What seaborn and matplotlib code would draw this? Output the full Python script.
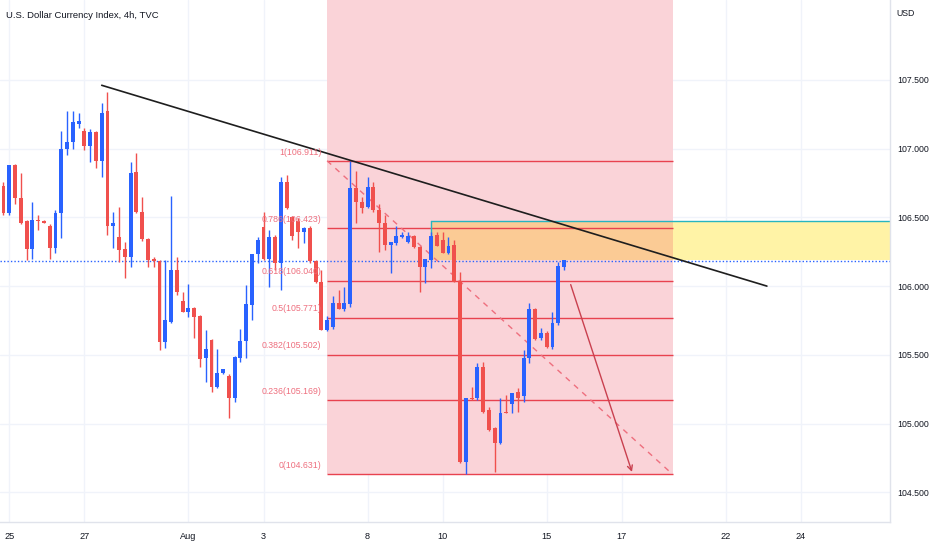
import numpy as np
import matplotlib
matplotlib.use("Agg")
import matplotlib.pyplot as plt
from matplotlib.patches import Rectangle
import seaborn as sns

# 4h candles, oldest first (bar index = position on the x axis)
opens = [106.73, 106.53, 106.88, 106.64, 106.47, 106.27, 106.48, 106.47, 106.44, 106.28,
         106.53, 107.00, 107.05, 107.18, 107.13, 107.02, 107.12, 106.91, 107.27, 106.44,
         106.36, 106.27, 106.21, 106.83, 106.54, 106.34, 106.20, 106.18, 105.59, 105.74,
         106.12, 105.89, 105.81, 105.84, 105.78, 105.48, 105.61, 105.27, 105.37, 105.35,
         105.19, 105.48, 105.60, 105.86, 106.23, 106.43, 106.20, 106.36, 106.17, 106.76,
         106.50, 106.47, 106.39, 106.42, 106.18, 106.03, 105.68, 105.70, 105.88, 105.83,
         105.87, 106.71, 106.61, 106.575, 106.72, 106.55, 106.46, 106.30, 106.31, 106.36,
         106.32, 106.365, 106.285, 106.14, 106.19, 106.37, 106.335, 106.24, 106.30, 106.04,
         104.72, 105.185, 105.19, 105.41, 105.10, 104.97, 104.86, 105.085, 105.14, 105.23,
         105.20, 105.48, 105.83, 105.62, 105.66, 105.56, 105.73, 106.14]
highs = [106.76, 106.88, 106.89, 106.82, 106.48, 106.61, 106.52, 106.48, 106.45, 106.55,
         107.13, 107.27, 107.27, 107.26, 107.15, 107.14, 107.13, 107.33, 107.41, 106.54,
         106.575, 106.32, 106.90, 106.97, 106.65, 106.35, 106.21, 106.19, 106.19, 106.655,
         106.21, 105.96, 106.015, 105.85, 105.79, 105.68, 105.615, 105.54, 105.40, 105.36,
         105.49, 105.69, 106.01, 106.235, 106.36, 106.54, 106.41, 106.37, 106.79, 106.81,
         106.51, 106.495, 106.43, 106.437, 106.19, 106.12, 105.78, 105.93, 105.97, 105.99,
         106.911, 106.84, 106.65, 106.79, 106.76, 106.60, 106.52, 106.32, 106.44, 106.39,
         106.39, 106.37, 106.29, 106.20, 106.39, 106.39, 106.39, 106.36, 106.335, 106.10,
         105.19, 105.27, 105.44, 105.45, 105.12, 104.975, 105.19, 105.21, 105.225, 105.26,
         105.535, 105.88, 105.84, 105.695, 105.67, 105.81, 106.175, 106.19]
lows = [106.52, 106.52, 106.60, 106.45, 106.19, 106.20, 106.41, 106.46, 106.20, 106.24,
        106.35, 106.95, 107.00, 107.15, 106.99, 106.90, 106.86, 106.79, 106.37, 106.28,
        106.175, 106.06, 106.14, 106.53, 106.33, 106.14, 106.14, 105.535, 105.55, 105.73,
        105.935, 105.81, 105.775, 105.62, 105.41, 105.30, 105.23, 105.26, 105.36, 105.04,
        105.16, 105.45, 105.48, 105.75, 106.17, 106.19, 105.99, 106.12, 105.97, 106.56,
        106.335, 106.28, 106.31, 106.17, 106.02, 105.68, 105.67, 105.69, 105.83, 105.82,
        105.85, 106.46, 106.53, 106.57, 106.54, 106.25, 106.26, 106.095, 106.30, 106.35,
        106.31, 106.28, 105.96, 106.02, 106.13, 106.29, 106.24, 106.235, 106.03, 104.715,
        104.631, 105.175, 105.17, 105.08, 104.95, 104.65, 104.855, 105.075, 105.08, 105.085,
        105.16, 105.44, 105.61, 105.61, 105.55, 105.54, 105.72, 106.12]
closes = [106.53, 106.88, 106.64, 106.46, 106.27, 106.48, 106.47, 106.46, 106.28, 106.53,
          107.00, 107.05, 107.19, 107.20, 107.02, 107.12, 106.91, 107.26, 106.44, 106.46,
          106.26, 106.21, 106.82, 106.54, 106.34, 106.19, 106.18, 105.59, 105.75, 106.12,
          105.96, 105.81, 105.84, 105.775, 105.47, 105.54, 105.27, 105.37, 105.40, 105.19,
          105.485, 105.60, 105.87, 106.23, 106.335, 106.20, 106.36, 106.17, 106.76, 106.57,
          106.365, 106.39, 106.42, 106.18, 106.03, 105.68, 105.75, 105.88, 105.83, 105.88,
          106.71, 106.61, 106.57, 106.72, 106.55, 106.46, 106.30, 106.32, 106.365, 106.375,
          106.365, 106.285, 106.14, 106.20, 106.365, 106.29, 106.24, 106.29, 106.03, 104.72,
          105.185, 105.18, 105.41, 105.085, 104.955, 104.86, 105.08, 105.08, 105.22, 105.19,
          105.48, 105.83, 105.615, 105.66, 105.555, 105.73, 106.145, 106.19]

date_ticks = [1, 14, 32, 45, 63, 76, 94, 107, 125, 138]
date_labels = ["25", "27", "Aug", "3", "8", "10", "15", "17", "22", "24"]
price_ticks = [104.5, 105.0, 105.5, 106.0, 106.5, 107.0, 107.5]

# drawings on the chart
fib_ratios = [1, 0.786, 0.618, 0.5, 0.382, 0.236, 0]
fib_prices = [106.911, 106.423, 106.040, 105.771, 105.502, 105.169, 104.631]
fib_start, fib_end = 56, 115.8
trend_x, trend_y = [17, 132.1], [107.46, 106.00]
zone_start, zone_low, zone_high = 74, 106.19, 106.47
arrow_from, arrow_to = (98.0, 106.03), (108.9, 104.63)
last_price = 106.18

BLUE = "#2962FF"
RED = "#F0504D"
TEXT = "#131722"
GRID = "#F0F3FA"

sns.set_theme(style="white")
plt.rcParams["font.family"] = ["Liberation Sans Narrow", "Liberation Sans", "DejaVu Sans"]

fig = plt.figure(figsize=(9.32, 5.5), dpi=100)
ax = fig.add_axes([0, 28 / 550, 890 / 932, 522 / 550])
ax.set_facecolor("white")

x_min, x_max = -0.6, 153.4
y_min, y_max = 104.285, 108.08
ax.set_xlim(x_min, x_max)
ax.set_ylim(y_min, y_max)

for t in price_ticks:
    ax.axhline(t, color=GRID, lw=1, zorder=0)
for t in date_ticks:
    ax.axvline(t, color=GRID, lw=1, zorder=0)

# fib retracement background + levels
ax.add_patch(Rectangle((fib_start, fib_prices[-1]), fib_end - fib_start, y_max - fib_prices[-1],
                       facecolor="#FAD3D8", edgecolor="none", zorder=0.5))
for r, p in zip(fib_ratios, fib_prices):
    ax.hlines(p, fib_start, fib_end, color="#E8424F", lw=1, zorder=1.5)
    ax.annotate(f"{r:g}({p:.3f})", (fib_start, p), xytext=(-4, 3), textcoords="offset points",
                ha="right", va="bottom", fontsize=6.3, color="#EE6F7E", zorder=5)
ax.plot([fib_start, fib_end], [fib_prices[0], fib_prices[-1]], ls=(0, (4, 4)), lw=1,
        color="#EE6F7E", zorder=1.6)

# supply zone
ax.add_patch(Rectangle((zone_start, zone_low), fib_end - zone_start, zone_high - zone_low,
                       facecolor="#FBCB95", edgecolor="none", zorder=1))
ax.add_patch(Rectangle((fib_end, zone_low), x_max - fib_end, zone_high - zone_low,
                       facecolor="#FFF3A6", edgecolor="none", zorder=1))
ax.plot([zone_start, x_max], [zone_high, zone_high], color="#26B5C0", lw=1, zorder=1.7)
ax.plot([zone_start, zone_start], [zone_low, zone_high], color="#26B5C0", lw=1, zorder=1.7)

# last price line
ax.axhline(last_price, color=BLUE, lw=1, ls=(0, (1, 1.5)), zorder=1.8)

# candles
o, h, l, c = map(np.array, (opens, highs, lows, closes))
idx = np.arange(len(o))
cols = np.where(c >= o, BLUE, RED)
ax.vlines(idx, l, h, colors=cols, lw=1, zorder=3)
body_lo = np.minimum(o, c)
body_h = np.maximum(np.abs(c - o), 0.008)
ax.bar(idx, body_h, bottom=body_lo, width=0.68, color=cols, edgecolor="none", zorder=3.1)

# trend line and projection arrow
sns.lineplot(x=trend_x, y=trend_y, ax=ax, color="#1E1E1E", lw=1.2, zorder=4)
ax.annotate("", xy=arrow_to, xytext=arrow_from,
            arrowprops=dict(arrowstyle="->", color="#C9404F", lw=1, mutation_scale=9), zorder=4)

# axes cosmetics
for side in ("top", "left"):
    ax.spines[side].set_visible(False)
for side in ("right", "bottom"):
    ax.spines[side].set_color("#E0E3EB")
    ax.spines[side].set_linewidth(1)
ax.yaxis.tick_right()
ax.set_yticks(price_ticks)
ax.set_yticklabels([f"{t:.3f}" for t in price_ticks])
ax.set_xticks(date_ticks)
ax.set_xticklabels(date_labels)
ax.tick_params(axis="both", length=0, colors=TEXT)
ax.tick_params(axis="y", pad=5, labelsize=6.3)
ax.tick_params(axis="x", pad=7, labelsize=6.6)
ax.set_xlabel("")
ax.set_ylabel("")

fig.text(6 / 932, 1 - 16 / 550, "U.S. Dollar Currency Index, 4h, TVC", fontsize=6.8,
         color=TEXT, va="center", ha="left")
fig.text(896 / 932, 1 - 13 / 550, "USD", fontsize=6.3, color=TEXT, va="center", ha="left")

fig.savefig("out.png", dpi=100, facecolor="white")
